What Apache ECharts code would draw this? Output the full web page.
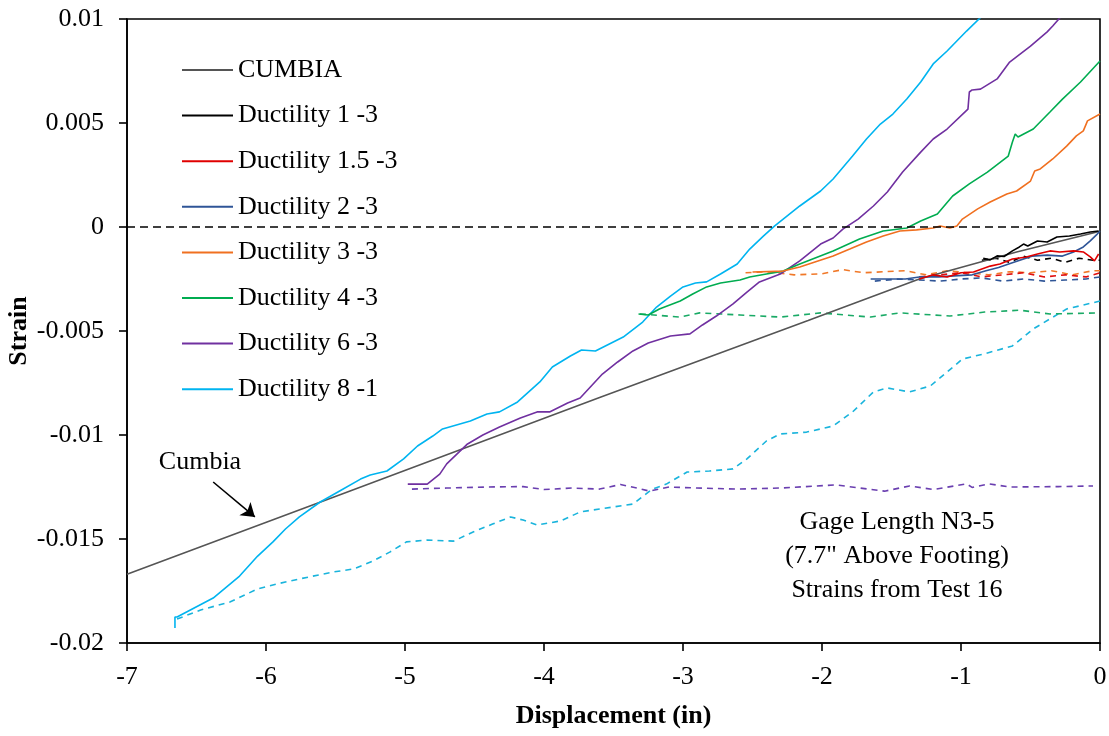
<!DOCTYPE html>
<html>
<head>
<meta charset="utf-8">
<title>Strain vs Displacement</title>
<script src="https://cdn.jsdelivr.net/npm/echarts@6/dist/echarts.min.js"></script>
<style>
    html, body {margin: 0; padding: 0; background: #fff;}
    #echarts {width: 1109px; height: 736px;}
</style>
</head>
<body>
<div id="echarts"></div>
<script>
// CUMBIA prediction
const cumbiaX = [-7, -5.4, -3.6, -2.1, -1.3, -0.6, 0];
const cumbiaY = [-0.0167, -0.0127, -0.0082, -0.0045, -0.0025, -0.0012, -0.0002];

// Ductility 1 -3
const d1X = [-0.84, -0.79, -0.74, -0.69, -0.63, -0.58, -0.55, -0.52, -0.45, -0.38, -0.31, -0.22, -0.14, -0.07, -0.01];
const d1Y = [-0.0015, -0.00158, -0.00139, -0.00142, -0.00115, -0.00096, -0.00082, -0.00091, -0.00067, -0.00072, -0.00048, -0.00043, -0.00034, -0.00024, -0.00019];
const d1dX = [-0.85, -0.75, -0.65, -0.55, -0.45, -0.35, -0.25, -0.15, -0.05, 0];
const d1dY = [-0.0016, -0.0015, -0.0017, -0.0014, -0.0016, -0.0015, -0.0017, -0.0015, -0.0016, -0.0016];

// Ductility 1.5 -3
const d15X = [-1.3, -1.2, -1.1, -1.0, -0.91, -0.79, -0.72, -0.63, -0.53, -0.45, -0.36, -0.29, -0.19, -0.12, -0.07, -0.04, -0.01];
const d15Y = [-0.0025, -0.0023, -0.0024, -0.0022, -0.00216, -0.00188, -0.00178, -0.00154, -0.00144, -0.0013, -0.00115, -0.0012, -0.00115, -0.0012, -0.00144, -0.00163, -0.0013];
const d15dX = [-1.3, -1.15, -1.0, -0.85, -0.7, -0.55, -0.4, -0.25, -0.1, 0];
const d15dY = [-0.0024, -0.0023, -0.0022, -0.0024, -0.0023, -0.0022, -0.0024, -0.0023, -0.0024, -0.0022];

// Ductility 2 -3
const d2X = [-1.65, -1.5, -1.4, -1.3, -1.16, -1.05, -0.92, -0.82, -0.73, -0.62, -0.49, -0.38, -0.27, -0.19, -0.12, -0.07, -0.02, 0];
const d2Y = [-0.0025, -0.0025, -0.0025, -0.0024, -0.0024, -0.00235, -0.0023, -0.0021, -0.00195, -0.0017, -0.0014, -0.00135, -0.0014, -0.0012, -0.00096, -0.00067, -0.00034, -0.0002];
const d2dX = [-1.62, -1.45, -1.3, -1.15, -1.0, -0.85, -0.7, -0.55, -0.4, -0.25, -0.1, 0];
const d2dY = [-0.0026, -0.0025, -0.00255, -0.0026, -0.0025, -0.00245, -0.0026, -0.0025, -0.0026, -0.00255, -0.0025, -0.0024];

// Ductility 3 -3
const d3X = [-2.5, -2.28, -2.16, -1.92, -1.8, -1.68, -1.56, -1.44, -1.32, -1.2, -1.15, -1.08, -1.03, -0.99, -0.88, -0.79, -0.67, -0.6, -0.5, -0.47, -0.43, -0.34, -0.24, -0.17, -0.12, -0.09, 0];
const d3Y = [-0.00216, -0.00212, -0.00192, -0.00139, -0.00106, -0.00072, -0.00043, -0.00019, -0.00014, -0.00005, 0.00005, -0.00005, 0.00005, 0.00038, 0.00087, 0.0012, 0.00159, 0.00173, 0.00221, 0.00269, 0.00279, 0.00327, 0.00389, 0.00438, 0.00462, 0.0051, 0.00543];
const d3dX = [-2.55, -2.4, -2.2, -2.0, -1.85, -1.7, -1.55, -1.4, -1.25, -1.1, -0.95, -0.8, -0.65, -0.5, -0.35, -0.2, -0.05, 0];
const d3dY = [-0.0022, -0.00215, -0.0023, -0.00225, -0.00205, -0.0022, -0.00215, -0.0021, -0.0023, -0.0021, -0.0022, -0.0023, -0.00215, -0.0022, -0.0021, -0.0023, -0.0021, -0.0021];

// Ductility 4 -3
const d4X = [-3.32, -3.25, -3.17, -3.02, -2.93, -2.83, -2.73, -2.59, -2.52, -2.4, -2.28, -2.16, -1.92, -1.73, -1.56, -1.39, -1.29, -1.17, -1.06, -0.94, -0.81, -0.66, -0.63, -0.61, -0.59, -0.48, -0.36, -0.27, -0.14, 0];
const d4Y = [-0.00418, -0.00423, -0.00394, -0.00356, -0.00322, -0.00288, -0.00269, -0.00255, -0.0024, -0.00226, -0.00212, -0.00178, -0.00115, -0.00058, -0.00019, -0.00005, 0.00029, 0.00063, 0.00149, 0.00207, 0.00264, 0.00341, 0.00409, 0.00447, 0.00433, 0.00471, 0.00553, 0.00615, 0.00697, 0.00798];
const d4dX = [-3.31, -3.02, -2.88, -2.59, -2.3, -2.01, -1.65, -1.44, -1.08, -0.83, -0.58, -0.36, 0];
const d4dY = [-0.00418, -0.00433, -0.00413, -0.00423, -0.00433, -0.00413, -0.00433, -0.00413, -0.00428, -0.00409, -0.004, -0.00418, -0.00413];

// Ductility 6 -3
const d6X = [-4.98, -4.84, -4.75, -4.7, -4.55, -4.44, -4.32, -4.17, -4.05, -3.96, -3.83, -3.74, -3.58, -3.47, -3.36, -3.25, -3.09, -2.95, -2.86, -2.76, -2.64, -2.54, -2.45, -2.3, -2.16, -2.01, -1.92, -1.85, -1.74, -1.63, -1.53, -1.42, -1.29, -1.2, -1.1, -0.95, -0.94, -0.92, -0.86, -0.74, -0.65, -0.5, -0.38, -0.34, -0.27];
const d6Y = [-0.01236, -0.01236, -0.01188, -0.01139, -0.01043, -0.01, -0.00962, -0.00918, -0.00889, -0.00889, -0.00846, -0.00822, -0.00707, -0.00649, -0.00596, -0.00558, -0.00524, -0.00514, -0.00471, -0.00428, -0.0037, -0.00313, -0.00264, -0.00226, -0.00163, -0.00082, -0.00053, -0.0001, 0.00038, 0.00101, 0.00168, 0.00264, 0.0036, 0.00423, 0.00471, 0.00567, 0.00649, 0.00659, 0.00663, 0.00712, 0.00793, 0.0087, 0.00938, 0.00966, 0.0102];
const d6dX = [-4.95, -4.7, -4.4, -4.15, -4.0, -3.8, -3.6, -3.45, -3.3, -3.24, -3.1, -2.9, -2.6, -2.3, -1.9, -1.55, -1.37, -1.2, -0.96, -0.92, -0.8, -0.65, -0.3, -0.05];
const d6dY = [-0.0126, -0.01255, -0.0125, -0.01248, -0.01262, -0.01255, -0.0126, -0.01238, -0.0126, -0.0127, -0.0125, -0.01255, -0.0126, -0.01255, -0.0124, -0.0127, -0.01245, -0.01262, -0.01235, -0.01252, -0.01235, -0.0125, -0.01248, -0.01245];

// Ductility 8 -1
const d8X = [-6.655, -6.655, -6.64, -6.38, -6.19, -6.06, -5.95, -5.86, -5.76, -5.61, -5.47, -5.32, -5.25, -5.13, -5.01, -4.91, -4.8, -4.73, -4.53, -4.41, -4.32, -4.19, -4.03, -3.94, -3.81, -3.73, -3.63, -3.43, -3.29, -3.19, -3.09, -3.0, -2.91, -2.83, -2.73, -2.61, -2.52, -2.42, -2.34, -2.25, -2.16, -2.01, -1.92, -1.78, -1.68, -1.58, -1.49, -1.39, -1.29, -1.2, -1.1, -0.96, -0.84];
const d8Y = [-0.01928, -0.01875, -0.01875, -0.01784, -0.01678, -0.01582, -0.01514, -0.01452, -0.01394, -0.01322, -0.01269, -0.01212, -0.01192, -0.01173, -0.01115, -0.01053, -0.01005, -0.00971, -0.00933, -0.00899, -0.00889, -0.00841, -0.00745, -0.00673, -0.0062, -0.00591, -0.00596, -0.00529, -0.00457, -0.00385, -0.00332, -0.00288, -0.00269, -0.00264, -0.00226, -0.00178, -0.00106, -0.00043, 0.00005, 0.00053, 0.00101, 0.00173, 0.00231, 0.00341, 0.00423, 0.00495, 0.00543, 0.00615, 0.00697, 0.00784, 0.00846, 0.00942, 0.0102];
const d8dX = [-6.64, -6.47, -6.26, -6.06, -5.92, -5.76, -5.52, -5.37, -5.23, -5.11, -4.99, -4.84, -4.65, -4.51, -4.37, -4.24, -4.15, -4.05, -3.88, -3.74, -3.6, -3.36, -3.22, -3.12, -2.97, -2.81, -2.64, -2.54, -2.4, -2.3, -2.11, -1.92, -1.78, -1.63, -1.53, -1.37, -1.22, -1.1, -0.99, -0.84, -0.63, -0.48, -0.36, -0.24, 0];
const d8dY = [-0.01885, -0.01841, -0.01803, -0.0174, -0.01716, -0.01692, -0.01659, -0.01644, -0.01606, -0.01563, -0.01514, -0.01505, -0.0151, -0.01466, -0.01428, -0.01394, -0.01409, -0.01433, -0.01413, -0.0137, -0.01356, -0.01332, -0.0126, -0.01236, -0.01178, -0.01173, -0.01163, -0.01115, -0.01029, -0.00995, -0.00986, -0.00957, -0.00889, -0.00793, -0.00774, -0.00793, -0.00764, -0.00697, -0.00635, -0.00611, -0.00572, -0.0049, -0.00442, -0.00394, -0.00356];

// axis ticks
const xTicks = [-7, 0, 1];          // min, max, interval
const yTicks = [-0.02, 0.01, 0.005];

const serif = '"Liberation Serif", "DejaVu Serif", serif';
const fs = 26;

function pairs(xs, ys) {
    return xs.map(function (x, i) {
        return [x, ys[i]];
    });
}

function solid(name, xs, ys, color, width) {
    return {
        name: name, type: 'line', data: pairs(xs, ys),
        symbol: 'none', smooth: false, silent: true,
        lineStyle: {color: color, width: width || 1.6},
        itemStyle: {color: color}
    };
}

function dashed(name, xs, ys, color) {
    return {
        name: name, type: 'line', data: pairs(xs, ys),
        symbol: 'none', silent: true,
        lineStyle: {color: color, width: 1.6, type: [6, 5]},
        itemStyle: {color: color}
    };
}

const legendNames = ['CUMBIA', 'Ductility 1 -3', 'Ductility 1.5 -3', 'Ductility 2 -3',
    'Ductility 3 -3', 'Ductility 4 -3', 'Ductility 6 -3', 'Ductility 8 -1'];

const cumbia = solid('CUMBIA', cumbiaX, cumbiaY, '#555555', 1.6);
//箭头标注
cumbia.markLine = {
    silent: true,
    symbol: ['none', 'arrow'],
    symbolSize: 13,
    label: {show: false},
    lineStyle: {color: '#000', width: 1.6, type: 'solid'},
    data: [[{coord: [-6.38, -0.01226]}, {coord: [-6.08, -0.01394]}]]
};

//零线
const zeroLine = dashed('zero', [], [], '#000');
zeroLine.markLine = {
    silent: true,
    symbol: 'none',
    label: {show: false},
    lineStyle: {color: '#000', width: 1.6, type: [8, 5]},
    data: [{yAxis: 0}]
};

const series = [
    zeroLine,
    dashed('Ductility 8 -1 res', d8dX, d8dY, '#1ab4dc'),
    dashed('Ductility 6 -3 res', d6dX, d6dY, '#6a3fb0'),
    dashed('Ductility 4 -3 res', d4dX, d4dY, '#1aaa66'),
    dashed('Ductility 3 -3 res', d3dX, d3dY, '#f07828'),
    dashed('Ductility 1.5 -3 res', d15dX, d15dY, '#e01010'),
    dashed('Ductility 2 -3 res', d2dX, d2dY, '#2f5597'),
    dashed('Ductility 1 -3 res', d1dX, d1dY, '#000'),
    cumbia,
    solid('Ductility 8 -1', d8X, d8Y, '#00b4f0'),
    solid('Ductility 6 -3', d6X, d6Y, '#7030a0'),
    solid('Ductility 4 -3', d4X, d4Y, '#00ac50'),
    solid('Ductility 3 -3', d3X, d3Y, '#f07020'),
    solid('Ductility 2 -3', d2X, d2Y, '#2f5597'),
    solid('Ductility 1.5 -3', d15X, d15Y, '#e00000'),
    solid('Ductility 1 -3', d1X, d1Y, '#000')
];

const option = {
    backgroundColor: '#fff',
    animation: false,
    grid: {
        left: 127, right: 9, top: 19, bottom: 93,
        outerBoundsMode: 'none',
        show: true, borderColor: '#000', borderWidth: 1.6, backgroundColor: 'transparent'
    },
    legend: {
        orient: 'vertical',
        left: 182, top: 56,
        padding: 0,
        icon: 'rect',
        itemWidth: 51, itemHeight: 2,
        itemGap: 17.6,
        data: legendNames,
        selectedMode: false,
        textStyle: {fontFamily: serif, fontSize: fs, color: '#000', lineHeight: 28}
    },
    xAxis: {
        type: 'value',
        min: xTicks[0], max: xTicks[1], interval: xTicks[2],
        name: 'Displacement (in)',
        nameLocation: 'middle',
        nameGap: 60,
        nameMoveOverlap: false,
        nameTextStyle: {fontFamily: serif, fontSize: fs, fontWeight: 'bold', color: '#000'},
        axisLine: {onZero: false, lineStyle: {color: '#000', width: 1.6}},
        axisTick: {show: true, inside: false, length: 8, lineStyle: {color: '#000', width: 1.6}},
        axisLabel: {fontFamily: serif, fontSize: fs, color: '#000', margin: 21},
        splitLine: {show: false}
    },
    yAxis: {
        type: 'value',
        min: yTicks[0], max: yTicks[1], interval: yTicks[2],
        name: 'Strain',
        nameLocation: 'middle',
        nameGap: 95,
        nameMoveOverlap: false,
        nameTextStyle: {fontFamily: serif, fontSize: fs, fontWeight: 'bold', color: '#000'},
        axisLine: {show: true, onZero: false, lineStyle: {color: '#000', width: 1.6}},
        axisTick: {show: true, inside: false, length: 8, lineStyle: {color: '#000', width: 1.6}},
        axisLabel: {fontFamily: serif, fontSize: fs, color: '#000', margin: 23},
        splitLine: {show: false}
    },
    graphic: [
        {type: 'text', x: 200, y: 462, style: {text: 'Cumbia', font: fs + 'px ' + serif, fill: '#000', textAlign: 'center', textVerticalAlign: 'middle'}},
        {type: 'text', x: 897, y: 522, style: {text: 'Gage Length N3-5', font: fs + 'px ' + serif, fill: '#000', textAlign: 'center', textVerticalAlign: 'middle'}},
        {type: 'text', x: 897, y: 556, style: {text: '(7.7" Above Footing)', font: fs + 'px ' + serif, fill: '#000', textAlign: 'center', textVerticalAlign: 'middle'}},
        {type: 'text', x: 897, y: 590, style: {text: 'Strains from Test 16', font: fs + 'px ' + serif, fill: '#000', textAlign: 'center', textVerticalAlign: 'middle'}}
    ],
    series: series
};

const myChart = echarts.init(document.getElementById('echarts'));
myChart.setOption(option);
</script>
</body>
</html>
